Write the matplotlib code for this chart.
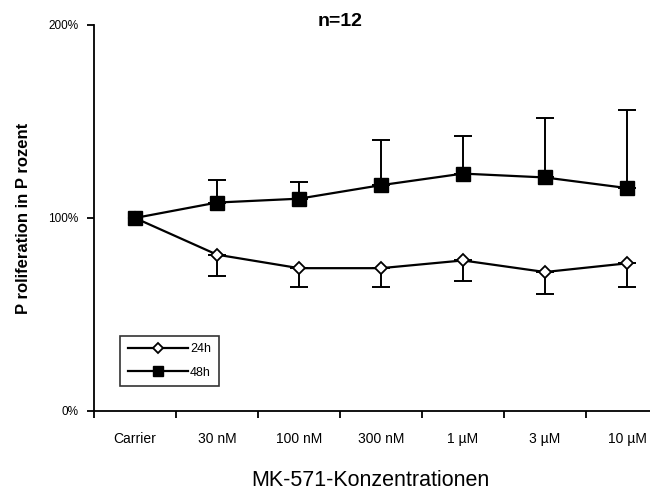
import matplotlib.pyplot as plt
import numpy as np

plt.rcParams['font.family'] = ['Liberation Sans', 'DejaVu Sans']

categories = ['Carrier', '30 nM', '100 nM', '300 nM', '1 µM', '3 µM', '10 µM']
mean_24h = [100, 81, 74, 74, 78, 72, 76.5]
sd_24h = [0, 11, 10, 10, 10.5, 11.5, 12.5]
mean_48h = [100, 108, 110, 117, 123, 121, 115.5]
sd_48h = [0, 11.5, 8.5, 23.5, 19.5, 31, 40.5]
yticks = [0, 100, 200]
ytick_labels = ['0%', '100%', '200%']

fig = plt.figure(figsize=(6.5, 4.99), dpi=100)
ax = fig.add_axes([0.1446, 0.1764, 0.883, 0.7735])

x = np.arange(1, len(categories) + 1)
zeros = np.zeros(len(x) - 1)

# 24h: white diamonds, error bars downward (carrier has no bar)
ax.errorbar(x[1:], mean_24h[1:], yerr=[sd_24h[1:], zeros], fmt='none',
            ecolor='black', elinewidth=1.4, capsize=6.5, capthick=1.4, zorder=2)
ax.plot(x, mean_24h, color='black', lw=1.6, marker='D', markersize=6,
        markerfacecolor='white', markeredgecolor='black', markeredgewidth=1.3,
        label='24h', zorder=3)

# 48h: black squares, error bars upward
ax.errorbar(x[1:], mean_48h[1:], yerr=[zeros, sd_48h[1:]], fmt='none',
            ecolor='black', elinewidth=1.4, capsize=6.5, capthick=1.4, zorder=2)
ax.plot(x, mean_48h, color='black', lw=1.6, marker='s', markersize=9.5,
        markerfacecolor='black', markeredgecolor='black',
        label='48h', zorder=4)

ax.set_xlim(0.5, len(categories) + 0.5)
ax.set_ylim(0, 200)

for side in ['top', 'right']:
    ax.spines[side].set_visible(False)
for side in ['left', 'bottom']:
    ax.spines[side].set_linewidth(1.3)
    ax.spines[side].set_color('black')

ax.set_yticks(yticks)
ax.set_yticklabels(ytick_labels, fontsize=8.5)
ax.tick_params(axis='y', direction='out', length=5, width=1.3, pad=6)

ax.set_xticks(x)
ax.set_xticklabels(categories, fontsize=10)
ax.set_xticks(np.arange(0.5, len(categories) + 1, 1), minor=True)
ax.tick_params(axis='x', which='major', length=0, pad=15)
ax.tick_params(axis='x', which='minor', direction='out', length=5, width=1.3)

fig.text(24 / 650, 1 - 218 / 499, 'P roliferation in P rozent', fontsize=12,
         fontweight='bold', rotation=90, ha='center', va='center')
fig.text(370 / 650, 1 - 481 / 499, 'MK-571-Konzentrationen', fontsize=15.5,
         ha='center', va='center')
fig.text(340 / 650, 1 - 22 / 499, 'n=12', fontsize=14, fontweight='bold',
         ha='center', va='center')

leg = ax.legend(loc='lower left', bbox_to_anchor=(120 / 650, 1 - 386 / 499),
                bbox_transform=fig.transFigure, fontsize=9, frameon=True,
                fancybox=False, edgecolor='black', handlelength=4.8,
                borderpad=0.6, labelspacing=0.9, handletextpad=0.2,
                borderaxespad=0, markerscale=0.8)
leg.get_frame().set_linewidth(1.2)

fig.savefig('out.png', dpi=100)
